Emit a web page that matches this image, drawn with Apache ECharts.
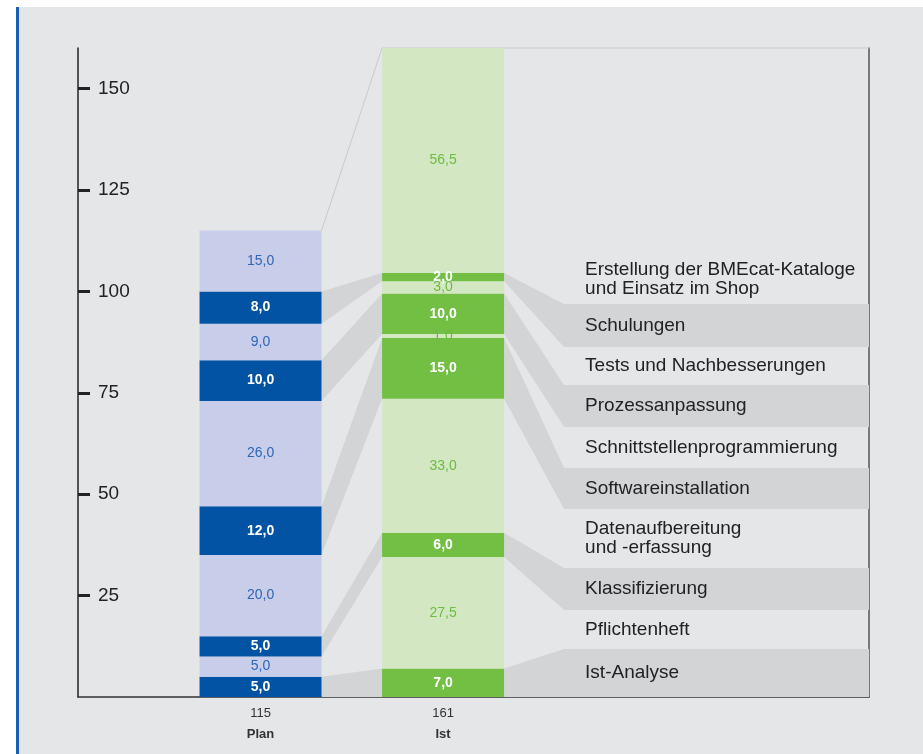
<!DOCTYPE html>
<html>
<head>
<meta charset="utf-8">
<script src="https://cdn.jsdelivr.net/npm/echarts@6/dist/echarts.min.js"></script>
<style>
  html, body { margin: 0; padding: 0; background: #fff; }
  #panel { position: absolute; left: 16px; top: 7px; width: 907px; height: 747px; background: #e5e6e8; border-left: 3px solid #1b5fb3; box-sizing: border-box; }
  #main { position: absolute; left: 0; top: 0; width: 923px; height: 754px; }
</style>
</head>
<body>
<div id="panel"></div>
<div id="main"></div>
<script>
// Arbeitsschritte, von unten nach oben gestapelt
const tasks = [
  "Ist-Analyse",
  "Pflichtenheft",
  "Klassifizierung",
  "Datenaufbereitung\nund -erfassung",
  "Softwareinstallation",
  "Schnittstellenprogrammierung",
  "Prozessanpassung",
  "Tests und Nachbesserungen",
  "Schulungen",
  "Erstellung der BMEcat-Kataloge\nund Einsatz im Shop",
];
const plan = [5, 5, 5, 20, 12, 26, 10, 9, 8, 15];
const ist = [7, 27.5, 6, 33, 15, 1, 10, 3, 2, 56.5];
const barNames = ["Plan", "Ist"];
const yTicks = [25, 50, 75, 100, 125, 150];

// Layout: x-Achse als Raster aus 14 Slots, Plan auf Slot 3, Ist auf Slot 6
const SLOTS = 14;
const PLAN_SLOT = 3;
const IST_SLOT = 6;
const Y_MAX = 160;
const BAR_W = 122;
const ROW_PX = [48, 39, 42, 59, 41, 41, 42, 38, 43, 50]; // Hoehe der Legendenzeilen rechts
const FONT = '"Liberation Sans", Arial, Helvetica, sans-serif';
const PLAN_DARK = "#0353a4";
const PLAN_LIGHT = "#c8cdea";
const IST_DARK = "#72bf44";
const IST_LIGHT = "#d3e7c3";
const BAND = "#d3d4d6";

const fmt = (v) => v.toFixed(1).replace(".", ",");
const cum = (arr) => arr.reduce((acc, v) => { acc.push(acc[acc.length - 1] + v); return acc; }, [0]);
const planCum = cum(plan);
const istCum = cum(ist);
const totals = [planCum[planCum.length - 1], istCum[istCum.length - 1]];

const categories = [];
for (let k = 0; k < SLOTS; k++) categories.push("");
categories[PLAN_SLOT] = "{n|" + totals[0] + "}\n{b|" + barNames[0] + "}";
categories[IST_SLOT] = "{n|" + totals[1] + "}\n{b|" + barNames[1] + "}";

const chart = echarts.init(document.getElementById("main"), null, { renderer: "canvas" });

// Verbindungsflaechen und Beschriftung rechts
function renderBands(params, api) {
  const i = params.dataIndex;
  const half = BAR_W / 2;
  const pRight = api.coord([PLAN_SLOT, 0])[0] + half;
  const iLeft = api.coord([IST_SLOT, 0])[0] - half;
  const iRight = iLeft + BAR_W;
  const rightX = api.coord([SLOTS - 1, 0])[0];
  const y = (v) => api.coord([0, Math.min(v, Y_MAX)])[1];
  const base = y(0);
  let rowBottom = base;
  for (let k = 0; k < i; k++) rowBottom -= ROW_PX[k];
  const rowTop = rowBottom - ROW_PX[i];
  const rowX = iRight + 60;
  const children = [];

  if (i % 2 === 0) {
    children.push({
      type: "polygon",
      shape: { points: [[pRight, y(planCum[i])], [pRight, y(planCum[i + 1])], [iLeft, y(istCum[i + 1])], [iLeft, y(istCum[i])]] },
      style: { fill: BAND },
    });
    children.push({
      type: "polygon",
      shape: { points: [[iRight, y(istCum[i])], [iRight, y(istCum[i + 1])], [rowX, rowTop], [rightX, rowTop], [rightX, rowBottom], [rowX, rowBottom]] },
      style: { fill: BAND },
    });
  }
  children.push({
    type: "text",
    style: {
      text: tasks[i], x: iRight + 81, y: (rowTop + rowBottom) / 2,
      fill: "#222", fontSize: 19, fontFamily: FONT, lineHeight: 19,
      align: "left", verticalAlign: "middle",
    },
  });
  if (i === tasks.length - 1) {
    children.push({
      type: "polyline",
      shape: { points: [[pRight, y(totals[0])], [iLeft, y(totals[1])], [rightX, y(totals[1])]] },
      style: { stroke: "#c9cacc", lineWidth: 1, fill: null },
    });
  }
  return { type: "group", children };
}

const barSeries = tasks.map((t, i) => ({
  name: t,
  type: "bar",
  stack: "total",
  barWidth: BAR_W,
  z: 3,
  data: [
    {
      value: [PLAN_SLOT, plan[i]],
      itemStyle: { color: i % 2 === 0 ? PLAN_DARK : PLAN_LIGHT },
      label: { color: i % 2 === 0 ? "#fff" : "#2f66b5", fontWeight: i % 2 === 0 ? "bold" : "normal" },
    },
    {
      value: [IST_SLOT, ist[i]],
      itemStyle: { color: i % 2 === 0 ? IST_DARK : IST_LIGHT },
      label: { color: i % 2 === 0 ? "#fff" : "#6dbb43", fontWeight: i % 2 === 0 ? "bold" : "normal" },
    },
  ],
  label: {
    show: true,
    position: "inside",
    fontSize: 14,
    fontFamily: FONT,
    formatter: (p) => fmt(p.value[1]),
  },
}));

const option = {
  backgroundColor: "transparent",
  animation: false,
  grid: { left: 78, right: 54, top: 48, bottom: 57 },
  xAxis: {
    type: "category",
    data: categories,
    boundaryGap: false,
    splitLine: { show: false },
    axisTick: { show: false },
    axisLine: { show: true, lineStyle: { color: "#333", width: 1.5 } },
    axisLabel: {
      interval: 0,
      margin: 6,
      rich: {
        n: { fontSize: 13, color: "#333", fontFamily: FONT, lineHeight: 21 },
        b: { fontSize: 13, color: "#333", fontFamily: FONT, fontWeight: "bold", lineHeight: 21 },
      },
    },
  },
  yAxis: [
    {
      type: "value",
      min: 0,
      max: Y_MAX,
      interval: 25,
      splitLine: { show: false },
      axisLine: { show: true, lineStyle: { color: "#222", width: 1.5 } },
      axisTick: { show: true, inside: true, length: 12, customValues: yTicks, lineStyle: { color: "#222", width: 3 } },
      axisLabel: { inside: true, margin: 20, customValues: yTicks, fontSize: 19, color: "#222", fontFamily: FONT },
    },
    {
      type: "value",
      min: 0,
      max: Y_MAX,
      position: "right",
      splitLine: { show: false },
      axisLine: { show: true, lineStyle: { color: "#555", width: 1.5 } },
      axisTick: { show: false },
      axisLabel: { show: false },
    },
  ],
  series: [
    {
      type: "custom",
      z: 1,
      silent: true,
      renderItem: renderBands,
      data: tasks.map(() => [0, 0]),
    },
    ...barSeries,
  ],
};

chart.setOption(option);
</script>
</body>
</html>
